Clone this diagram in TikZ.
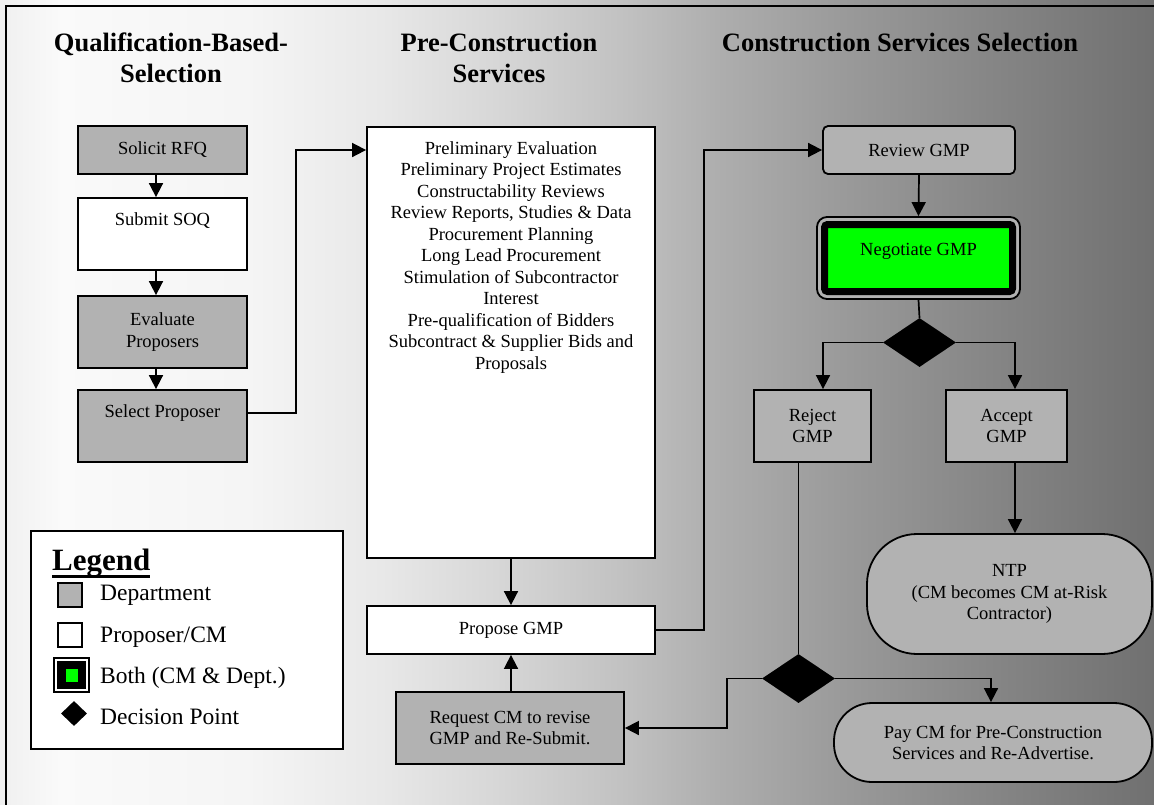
\documentclass[tikz,border=0pt]{standalone}
\usepackage{fontspec}
\setmainfont{Liberation Serif}
\usetikzlibrary{arrows.meta,shapes.geometric}
\definecolor{boxgray}{rgb}{0.698,0.698,0.698}
\definecolor{ngreen}{rgb}{0,1,0}
\definecolor{bga}{rgb}{0.94,0.94,0.94}
\definecolor{bgb}{rgb}{0.98,0.98,0.98}
\definecolor{bgc}{rgb}{0.96,0.96,0.96}
\definecolor{bgd}{rgb}{0.91,0.91,0.91}
\definecolor{bge}{rgb}{0.84,0.84,0.84}
\definecolor{bgf}{rgb}{0.76,0.76,0.76}
\definecolor{bgg}{rgb}{0.68,0.68,0.68}
\definecolor{bgh}{rgb}{0.60,0.60,0.60}
\definecolor{bgi}{rgb}{0.52,0.52,0.52}
\definecolor{bgj}{rgb}{0.44,0.44,0.44}
\pgfdeclarehorizontalshading{bgshade}{100bp}{color(0bp)=(bga); color(25bp)=(bga); color(27.6bp)=(bgb); color(35.8bp)=(bgc); color(41.5bp)=(bgd); color(46.7bp)=(bge); color(51.9bp)=(bgf); color(56.2bp)=(bgg); color(61.8bp)=(bgh); color(68.3bp)=(bgi); color(75bp)=(bgj); color(100bp)=(bgj)}
\newcommand\mybody{\fontsize{18.5}{21.5}\selectfont}
\newcommand\myleg{\fontsize{23.5}{27}\selectfont}
\newcommand\mytitle{\fontsize{26.5}{31}\selectfont\bfseries}
\newcommand\thickul[1]{{\setbox0\hbox{#1}\rlap{\rule[-8pt]{\wd0}{3.5pt}}\box0}}
\begin{document}
\begin{tikzpicture}[x=1pt,y=-1pt,
  box/.style={draw, line width=1.8pt, inner sep=0pt, align=center, font=\mybody},
  dept/.style={box, fill=boxgray},
  cmbox/.style={box, fill=white},
  conn/.style={line width=1.7pt},
  arr/.style={conn, -{Triangle[length=14pt,width=14pt]}},
  txt/.style={inner sep=0pt, align=center, font=\mybody},
  title/.style={inner sep=0pt, align=center, font=\mytitle, anchor=north},
  dec/.style={diamond, fill=black, inner sep=0pt, minimum width=73pt, minimum height=49pt},
  legtxt/.style={inner sep=0pt, font=\myleg, anchor=base west}]
\useasboundingbox (0,0) rectangle (1154,804);
\shade[shading=bgshade] (0,0) rectangle (1154,804);
\draw[line width=1.6pt] (6,810) -- (6,6) -- (1160,6);

% titles
\node[title] (t1) at (171,32.5) {Qualification-Based-\\Selection};
\node[title] (t2) at (499,32.5) {Pre-Construction\\Services};
\node[title] (t3) at (900,32.5) {Construction Services Selection};

% left column
\node[dept, minimum width=169, minimum height=48] (solicit) at (162.5,150) {Solicit RFQ};
\node[cmbox, minimum width=169, minimum height=72] (submit) at (162.5,234) {};
\node[txt] (submitt) at (162.5,221) {Submit SOQ};
\node[dept, minimum width=169, minimum height=72] (eval) at (162.5,332) {Evaluate\\Proposers};
\node[dept, minimum width=169, minimum height=72] (select) at (162.5,426) {};
\node[txt] (selectt) at (162.5,413) {Select Proposer};

% middle column
\node[cmbox, minimum width=288, minimum height=431] (pre) at (511,342.5) {};
\node[txt, anchor=north] (pret) at (511,141) {Preliminary Evaluation\\Preliminary Project Estimates\\Constructability Reviews\\Review Reports, Studies \& Data\\Procurement Planning\\Long Lead Procurement\\Stimulation of Subcontractor\\Interest\\Pre-qualification of Bidders\\Subcontract \& Supplier Bids and\\Proposals};
\node[cmbox, minimum width=288, minimum height=48] (propose) at (511,630) {Propose GMP};
\node[dept, minimum width=228, minimum height=72] (request) at (510,728) {Request CM to revise\\GMP and Re-Submit.};

% right column
\node[dept, rounded corners=5pt, minimum width=192, minimum height=48] (review) at (919,150) {Review GMP};
\node[dept, rounded corners=10pt, minimum width=203, minimum height=82] (negout) at (918.5,258) {};
\node[draw=black, line width=7pt, fill=ngreen, rounded corners=3pt, minimum width=188, minimum height=67, inner sep=0pt] (neg) at (918.5,258) {};
\node[txt] (negt) at (918.5,251) {Negotiate GMP};
\node[dec] (d1) at (919.5,342.5) {};
\node[dept, minimum width=117, minimum height=72] (reject) at (812.5,426) {Reject\\GMP};
\node[dept, minimum width=121, minimum height=72] (accept) at (1006.5,426) {Accept\\GMP};
\node[dept, rounded corners=50pt, minimum width=285, minimum height=120] (ntp) at (1009.5,594) {NTP\\(CM becomes CM at-Risk\\Contractor)};
\node[dec] (d2) at (798.5,678.5) {};
\node[dept, rounded corners=38pt, minimum width=318, minimum height=79] (pay) at (993,742.5) {Pay CM for Pre-Construction\\Services and Re-Advertise.};

% legend
\node[draw, line width=1.6pt, fill=white, minimum width=312, minimum height=218, inner sep=0pt] (legend) at (187,640) {};
\node[inner sep=0pt, anchor=base west, font=\fontsize{31}{31}\selectfont\bfseries] (legt) at (52,570) {\thickul{Legend}};
\node[draw, line width=1.5pt, fill=boxgray, minimum size=24, inner sep=0pt] (lg1) at (70,595) {};
\node[legtxt] (lt1) at (100,600) {Department};
\node[draw, line width=1.5pt, fill=white, minimum size=24, inner sep=0pt] (lg2) at (70,635) {};
\node[legtxt] (lt2) at (100,642) {Proposer/CM};
\node[draw, line width=1.2pt, fill=white, minimum width=35, minimum height=34, inner sep=0pt] (lg3) at (71.5,675) {};
\node[fill=black, minimum width=29, minimum height=28, inner sep=0pt] (lg3b) at (71.5,675) {};
\node[fill=ngreen, minimum width=12, minimum height=13, inner sep=0pt] (lg3g) at (72,675.5) {};
\node[legtxt] (lt3) at (100,683) {Both (CM \& Dept.)};
\node[diamond, fill=black, minimum width=26, minimum height=25, inner sep=0pt] (lg4) at (74,713.5) {};
\node[legtxt] (lt4) at (100,724) {Decision Point};

% connectors
\draw[arr] ([xshift=-6.5pt]solicit.south) -- ([xshift=-6.5pt]submit.north);
\draw[arr] ([xshift=-6.5pt]submit.south) -- ([xshift=-6.5pt]eval.north);
\draw[arr] ([xshift=-6.5pt]eval.south) -- ([xshift=-6.5pt]select.north);
\draw[arr] ([yshift=13pt]select.east) -- ++(48,0) |- (pre.west |- review.west);
\draw[arr] (pre.south) -- (propose.north);
\draw[arr] (propose.south |- request.north) -- (propose.south);
\draw[arr] (propose.east) -- ++(48,0) |- (review.west);
\draw[arr] (review.south) -- (negout.north);
\draw[conn] (negout.south) -- (d1.north);
\draw[arr] (d1.west) -| ([xshift=10.5pt]reject.north);
\draw[arr] (d1.east) -| ([xshift=8.5pt]accept.north);
\draw[arr] ([xshift=8.5pt]accept.south) -- ([xshift=8.5pt]accept.south |- ntp.north);
\draw[conn] (reject.south -| d2.north) -- (d2.north);
\draw[arr] (d2.west) -- ++(-35,0) |- (request.east);
\draw[arr] (d2.east) -| ([xshift=-2pt]pay.north);
\end{tikzpicture}
\end{document}
